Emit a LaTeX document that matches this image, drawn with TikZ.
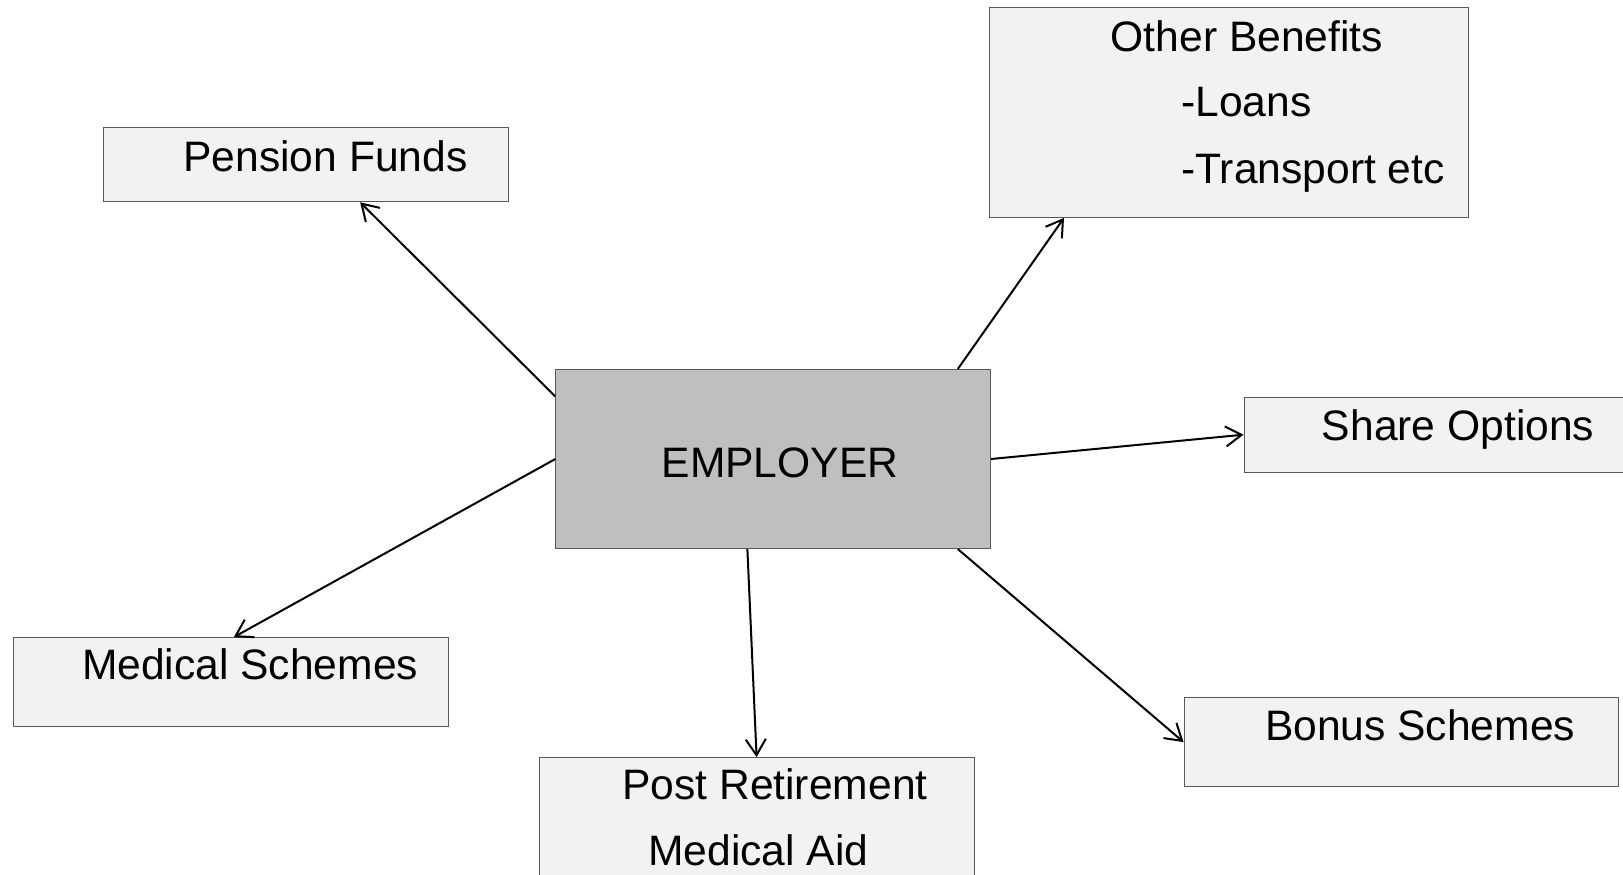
\documentclass[tikz,border=0pt]{standalone}
\usepackage{fontspec}
\setmainfont{Liberation Sans}
\usetikzlibrary{arrows.meta}
\definecolor{boxgray}{HTML}{F2F2F2}
\definecolor{empgray}{HTML}{BFBFBF}
\definecolor{edgegray}{HTML}{595959}

\begin{document}
\begin{tikzpicture}[x=1pt,y=-1pt,
		benefit/.style={draw=edgegray,fill=boxgray,line width=1pt,inner sep=0pt},
		lbl/.style={anchor=base west,inner sep=0pt,font=\fontsize{42.6}{50}\selectfont},
		link/.style={line width=2pt,-{Straight Barb[length=16pt,width=20pt,line width=2pt]}}]
		\useasboundingbox (0,0) rectangle (1623,875);
		\clip (0,0) rectangle (1623,875);
		%draw boxes
		\node[benefit,fill=empgray,minimum width=434.7pt,minimum height=179.1pt] (emp) at (773.2,459) {};
		\node[benefit,minimum width=404.7pt,minimum height=74.5pt] (pf) at (305.9,164.6) {};
		\node[benefit,minimum width=479.3pt,minimum height=210.2pt] (ob) at (1229,112.3) {};
		\node[benefit,minimum width=386pt,minimum height=74.6pt] (so) at (1437,434.7) {};
		\node[benefit,minimum width=434.7pt,minimum height=89pt] (ms) at (230.9,682.1) {};
		\node[benefit,minimum width=434.8pt,minimum height=142.4pt] (pr) at (756.6,828.8) {};
		\node[benefit,minimum width=434.7pt,minimum height=89pt] (bs) at (1401.4,742.1) {};
		%draw texts
		\node[lbl] (emptext) at (661.4,477.7) {EMPLOYER};
		\node[lbl] (pftext) at (183.2,171.3) {Pension Funds};
		\node[lbl] (obtext) at (1110.6,51.2) {Other Benefits};
		\node[lbl] (obloans) at (1181,116.4) {-Loans};
		\node[lbl] (obtransport) at (1181,183.7) {-Transport etc};
		\node[lbl] (sotext) at (1321.7,440.4) {Share Options};
		\node[lbl] (mstext) at (81.8,679.5) {Medical Schemes};
		\node[lbl] (prtext) at (622,799.5) {Post Retirement};
		\node[lbl] (praid) at (648,865.8) {Medical Aid};
		\node[lbl] (bstext) at (1264.8,740.5) {Bonus Schemes};
		%draw arrows
		\draw[link] (emp.164) -- ([xshift=54.3pt]pf.south);
		\draw[link] (emp.26.6) -- ([xshift=-165pt]ob.south);
		\draw[link] (emp.0) -- (so.west);
		\draw[link] (emp.-26) -- (bs.west);
		\draw[link] (emp.254.5) -- (pr.north);
		\draw[link] (emp.180) -- ([xshift=3pt]ms.north);
\end{tikzpicture}
\end{document}
